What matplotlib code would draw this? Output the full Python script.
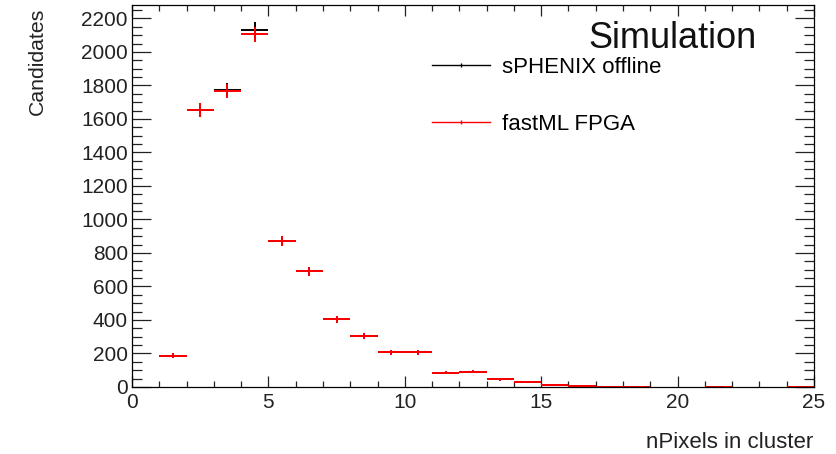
import numpy as np
import matplotlib
matplotlib.use("Agg")
import matplotlib.pyplot as plt
from matplotlib.lines import Line2D
from matplotlib.ticker import MultipleLocator

plt.rcParams['font.family'] = ['Liberation Sans', 'DejaVu Sans']

# bin edges 1..25, one count per bin
edges = np.arange(1, 26)
offline = [187, 1655, 1770, 2130, 872, 692, 405, 306, 208, 206, 85, 92,
           45, 29, 9, 3, 2, 2, 0, 0, 1, 0, 0, 1]
fpga = [187, 1652, 1768, 2105, 870, 691, 404, 306, 208, 206, 85, 91,
        45, 29, 9, 3, 2, 2, 0, 0, 1, 0, 0, 1]
labels = ["sPHENIX offline", "fastML FPGA"]

centers = 0.5 * (edges[:-1] + edges[1:])
half = 0.5 * np.diff(edges)

fig = plt.figure(figsize=(8.36, 4.54), dpi=100)
ax = fig.add_axes([132/836, 1-387/454, 682/836, 382/454])

for vals, col in [(offline, 'black'), (fpga, 'red')]:
    v = np.array(vals, dtype=float)
    m = v > 0
    ax.errorbar(centers[m], v[m], xerr=half[m], yerr=np.sqrt(v[m]),
                fmt='none', ecolor=col, elinewidth=1.4, capsize=0)

ax.set_xlim(0, 25)
ax.set_ylim(0, 2280)
ax.xaxis.set_major_locator(MultipleLocator(5))
ax.xaxis.set_minor_locator(MultipleLocator(1))
ax.yaxis.set_major_locator(MultipleLocator(200))
ax.yaxis.set_minor_locator(MultipleLocator(50))
ax.tick_params(which='both', direction='in', top=True, right=True,
               labelsize=15, width=0.9, colors='#222222')
ax.tick_params(axis='x', which='major', length=8, pad=4.5)
ax.tick_params(axis='x', which='minor', length=4)
ax.tick_params(axis='y', which='major', length=14, pad=3)
ax.tick_params(axis='y', which='minor', length=7)
for s in ax.spines.values():
    s.set_linewidth(0.9)

fig.text(813/836, 1-448/454, "nPixels in cluster", ha='right', va='baseline',
         fontsize=16, color='#222222')
fig.text(37/836, 1-8/454, "Candidates", ha='center', va='top', rotation=90,
         fontsize=15.3, color='#222222')
fig.text(757/836, 1-48/454, "Simulation", ha='right', va='baseline',
         fontsize=26, color='#111111')

handles = [Line2D([], [], color='black', lw=1, marker='|', markersize=3),
           Line2D([], [], color='red', lw=1, marker='|', markersize=3)]
ax.legend(handles, labels, loc='upper left', bbox_to_anchor=(432/836, 1-57/454),
          bbox_transform=fig.transFigure, frameon=False, fontsize=16,
          handlelength=2.6, handletextpad=0.55, labelspacing=1.62,
          borderpad=0, borderaxespad=0)

fig.savefig("out.png", dpi=100)
